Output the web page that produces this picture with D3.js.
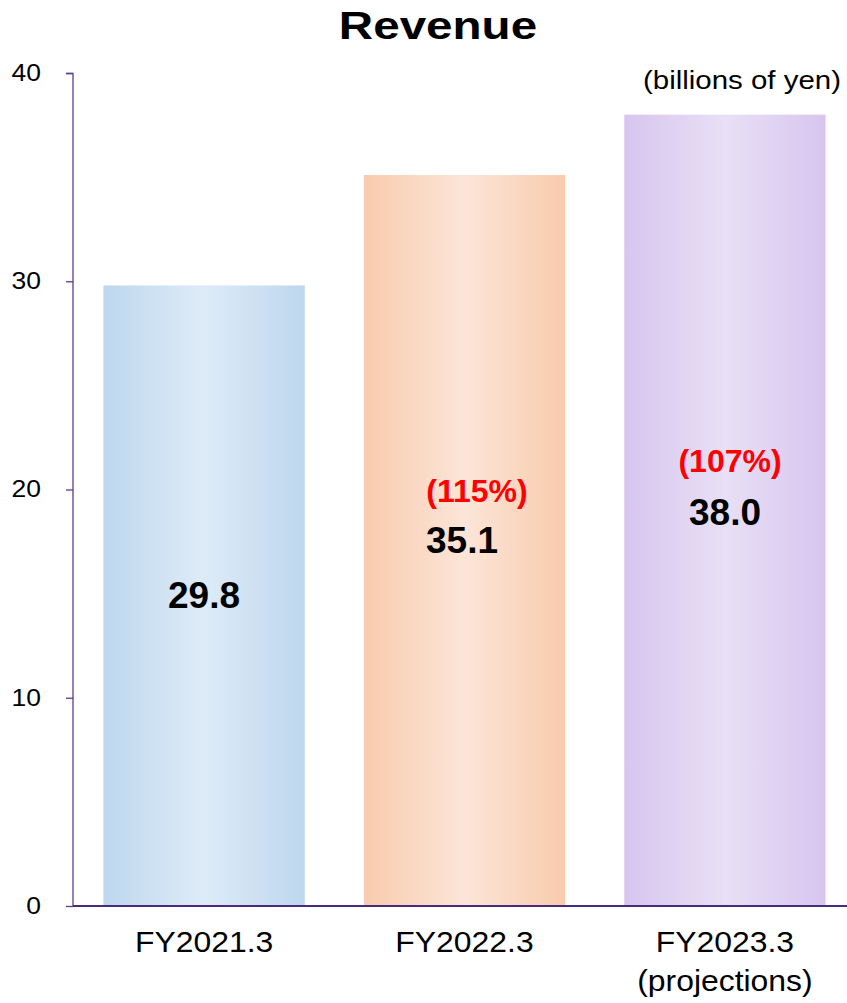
<!DOCTYPE html>
<html><head><meta charset="utf-8">
<script src="https://cdn.jsdelivr.net/npm/d3@7"></script>
<style>body{margin:0;background:#fff}svg{display:block;font-family:"Liberation Sans",Arial,sans-serif}</style>
</head><body>
<script>
const categories = ["FY2021.3", "FY2022.3", "FY2023.3"];
const subLabels = ["", "", "(projections)"];
const values = [29.8, 35.1, 38.0];
const growth = [null, "(115%)", "(107%)"];
const yTicks = [0, 10, 20, 30, 40];
const edgeColors = ["#bdd7ee", "#f8cbad", "#d8c5ef"];
const midColors = ["#deebf7", "#fce5d8", "#e8e0f5"];

const W = 847, H = 1003;
const svg = d3.select("body").append("svg").attr("width", W).attr("height", H);
const x = d3.scaleBand().domain(categories).range([74, 855]).paddingInner(0.227).paddingOuter(0.113);
const y = d3.scaleLinear().domain([0, 40]).range([906, 73]);

function stretch(sel, f) {
  sel.each(function () {
    const w = this.getComputedTextLength();
    d3.select(this).attr("textLength", w * f).attr("lengthAdjust", "spacingAndGlyphs");
  });
}

const defs = svg.append("defs");
categories.forEach((c, i) => {
  const g = defs.append("linearGradient").attr("id", "g" + i).attr("x1", "0").attr("x2", "1").attr("y1", "0").attr("y2", "0");
  g.append("stop").attr("offset", "0%").attr("stop-color", edgeColors[i]);
  g.append("stop").attr("offset", "50%").attr("stop-color", midColors[i]);
  g.append("stop").attr("offset", "100%").attr("stop-color", edgeColors[i]);
});

const title = svg.append("text").attr("x", 438).attr("y", 39).attr("text-anchor", "middle")
  .attr("font-size", 39).attr("font-weight", "bold").text("Revenue");
stretch(title, 1.22);

svg.selectAll("rect.bar").data(values).enter().append("rect").attr("class", "bar")
  .attr("x", (d, i) => x(categories[i])).attr("width", x.bandwidth())
  .attr("y", d => y(d)).attr("height", d => y(0) - y(d))
  .attr("fill", (d, i) => `url(#g${i})`);

// y axis
const yAxis = d3.axisLeft(y).tickValues(yTicks).tickSize(7).tickPadding(25).tickFormat(d3.format("d"));
const ya = svg.append("g").attr("transform", "translate(73,0)").call(yAxis);
ya.select(".domain").attr("stroke", "#5a3c8c").attr("stroke-width", 1.3).attr("d", "M-7,73.5H0V906");
ya.selectAll(".tick line").attr("stroke", "#5a3c8c").attr("stroke-width", 1.3);
const tt = ya.selectAll(".tick text").attr("font-size", 23).attr("fill", "#000")
  .attr("font-family", "Liberation Sans, Arial, sans-serif").attr("dy", "0.32em");
stretch(tt, 1.15);

// x axis
const xAxis = d3.axisBottom(x).tickSize(0).tickPadding(0).tickFormat(() => "");
const xa = svg.append("g").attr("transform", "translate(0,906)").call(xAxis);
xa.select(".domain").attr("stroke", "#4a2a7c").attr("stroke-width", 2.2).attr("d", "M73,0H847");

categories.forEach((c, i) => {
  const cx = x(c) + x.bandwidth() / 2;
  stretch(svg.append("text").attr("x", cx).attr("y", 952).attr("text-anchor", "middle").attr("font-size", 29).text(c), 1.1);
  if (subLabels[i]) stretch(svg.append("text").attr("x", cx).attr("y", 991).attr("text-anchor", "middle").attr("font-size", 29).text(subLabels[i]), 1.1);
});

const valPos = [[204, 608], [462, 553], [725, 525]];
const growthPos = [null, [477, 502], [730, 472]];
values.forEach((v, i) => {
  svg.append("text").attr("x", valPos[i][0]).attr("y", valPos[i][1]).attr("text-anchor", "middle")
    .attr("font-size", 37).attr("font-weight", "bold").text(d3.format(".1f")(v));
  if (growth[i]) svg.append("text").attr("x", growthPos[i][0]).attr("y", growthPos[i][1]).attr("text-anchor", "middle")
    .attr("font-size", 32).attr("font-weight", "bold").attr("fill", "#ff0000").text(growth[i]);
});

const unit = svg.append("text").attr("x", 841).attr("y", 89).attr("text-anchor", "end").attr("font-size", 25).text("(billions of yen)");
unit.attr("textLength", 198).attr("lengthAdjust", "spacingAndGlyphs");
</script>
</body></html>
